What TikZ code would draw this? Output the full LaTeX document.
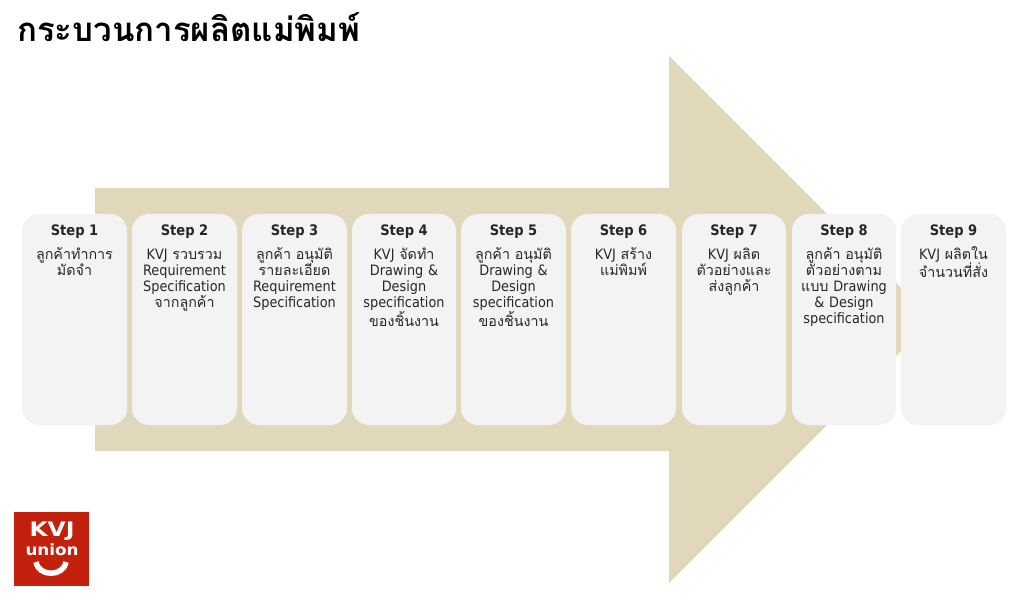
\documentclass[tikz,border=0pt]{standalone}
\usepackage{fontspec}
\setmainfont{DejaVu Sans Condensed}
\newfontfamily\thaifont[Script=Thai]{Loma}
\newcommand{\tf}[1]{{\thaifont #1}}
\definecolor{arrowc}{HTML}{E1D8BC}
\definecolor{boxc}{HTML}{F3F3F3}
\definecolor{logoc}{HTML}{C4200E}
\definecolor{textc}{HTML}{262626}
\tikzset{
 stepbox/.style={fill=boxc,rounded corners=17pt,draw=none},
 stephead/.style={font=\bfseries\fontsize{14.5}{16}\selectfont,text=textc,anchor=center,inner sep=0},
 stepbody/.style={font=\fontsize{14.3}{16}\selectfont,text=textc,anchor=north,align=center,inner sep=0,text width=104pt}
}
\newcommand{\stepitem}[5]{% name x1 x2 head body
 \fill[stepbox] (#2,214) rectangle (#3,425);
 \node[stephead] (h#1) at ({(#2+#3)/2},232) {#4};
 \node[stepbody] (b#1) at ({(#2+#3)/2},245) {\lineskiplimit=-100pt\relax\rule{0pt}{14pt}#5};
}
\begin{document}
\begin{tikzpicture}[x=1pt,y=-1pt]
\useasboundingbox (0,0) rectangle (1024,601);
\fill[white] (0,0) rectangle (1024,601);
\node[anchor=west,inner sep=0,font=\thaifont\bfseries\fontsize{33}{36}\selectfont,text=black] (title) at (17,27) {กระบวนการผลิตแม่พิมพ์};
\fill[arrowc] (95,188) -- (669,188) -- (669,56) -- (932.5,319.5) -- (669,583) -- (669,451) -- (95,451) -- cycle;
\stepitem{1}{22}{127}{Step 1}{\tf{ลูกค้าทำการ}\\\tf{มัดจำ}}
\stepitem{2}{132}{237}{Step 2}{KVJ \tf{รวบรวม}\\Requirement\\Specification\\\tf{จากลูกค้า}}
\stepitem{3}{242}{347}{Step 3}{\tf{ลูกค้า อนุมัติ}\\\tf{รายละเอียด}\\Requirement\\Specification}
\stepitem{4}{352}{456}{Step 4}{KVJ \tf{จัดทำ}\\Drawing \&\\Design\\specification\\\tf{ของชิ้นงาน}}
\stepitem{5}{461}{566}{Step 5}{\tf{ลูกค้า อนุมัติ}\\Drawing \&\\Design\\specification\\\tf{ของชิ้นงาน}}
\stepitem{6}{571}{676}{Step 6}{KVJ \tf{สร้าง}\\\tf{แม่พิมพ์}}
\stepitem{7}{682}{786}{Step 7}{KVJ \tf{ผลิต}\\\tf{ตัวอย่างและ}\\\tf{ส่งลูกค้า}}
\stepitem{8}{792}{896}{Step 8}{\tf{ลูกค้า อนุมัติ}\\\tf{ตัวอย่างตาม}\\\tf{แบบ} Drawing\\\& Design\\specification}
\stepitem{9}{901}{1006}{Step 9}{KVJ \tf{ผลิตใน}\\\tf{จำนวนที่สั่ง}}
\fill[logoc] (14,512) rectangle (89,586);
\node[font=\bfseries\fontsize{20}{20}\selectfont,text=white,inner sep=0] (kvj) at (52,531) {\scalebox{1.3}[1]{KVJ}};
\node[font=\bfseries\fontsize{15.5}{15}\selectfont,text=white,inner sep=0] (union) at (52,550) {\scalebox{1.2}[1]{union}};
\draw[white,line width=5.5pt] (36,562) .. controls (39,577) and (63,577) .. (66,562);
\end{tikzpicture}
\end{document}
